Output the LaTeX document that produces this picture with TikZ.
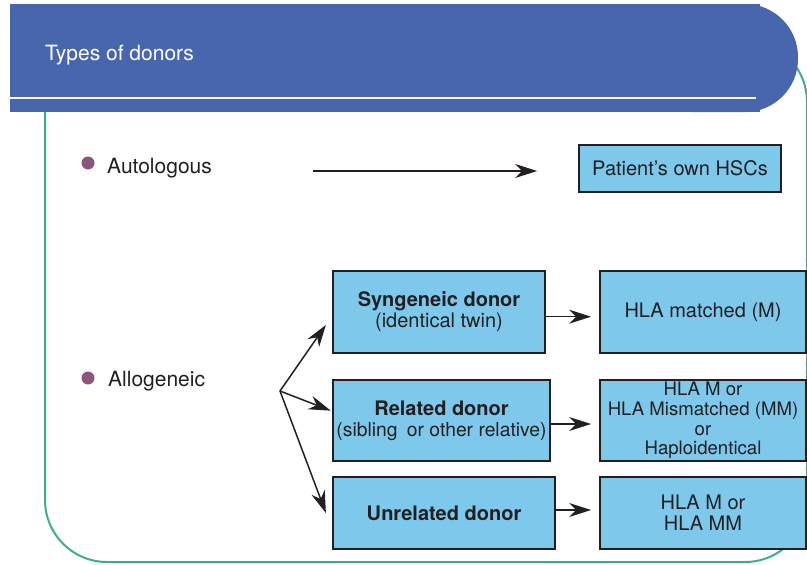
\documentclass[tikz,border=0pt]{standalone}
\usepackage{fontspec}
\setmainfont{TeX Gyre Heros}
\usetikzlibrary{arrows.meta}

\definecolor{bandblue}{HTML}{4866AE}
\definecolor{boxblue}{HTML}{7EC8EB}
\definecolor{framegreen}{HTML}{3FAE88}
\definecolor{dotpurple}{HTML}{8C5679}
\definecolor{inkdark}{HTML}{231F20}

\tikzset{
    donorbox/.style={draw=inkdark,line width=1.8pt,fill=boxblue,text=inkdark,
        align=center,inner sep=0pt,font=\fontsize{20}{21}\selectfont},
    typedot/.style={circle,fill=dotpurple,inner sep=0pt,minimum size=13pt},
    typetext/.style={anchor=base west,inner sep=0pt,text=inkdark,
        font=\fontsize{21}{22}\selectfont},
    bandtext/.style={anchor=base west,inner sep=0pt,text=white,
        font=\fontsize{21}{22}\selectfont}
}

\begin{document}
\begin{tikzpicture}[x=1pt,y=-1pt,>={Stealth[length=22pt,width=14pt,inset=7pt]}]
        \useasboundingbox (0,0) rectangle (807,565);

        \draw[framegreen,line width=2pt,rounded corners=62pt] (45,40) rectangle (807,562);
        \fill[bandblue] (10,4) rectangle (760,112);
        \fill[bandblue,rounded corners=53pt] (640,4) rectangle (798,112);
        \draw[white,line width=2pt] (10,98) -- (756,98);
        \node[bandtext] at (45,60) (head) {Types of donors};

        \node[typedot] at (88,163) (dot1) {};
        \node[typetext] at (107,173) (auto) {Autologous};
        \node[typedot] at (88,378) (dot2) {};
        \node[typetext] at (108,386) (allo) {Allogeneic};

        \node[donorbox,minimum width=202pt,minimum height=47pt] at (680,168.5) (own) {Patient’s own HSCs};

        \node[donorbox,minimum width=212pt,minimum height=82pt] at (439,312) (syn) {\textbf{Syngeneic donor}\\(identical twin)};
        \node[donorbox,minimum width=217pt,minimum height=81pt] at (441.5,420.5) (rel) {\textbf{Related donor}\\{\fontsize{19.3}{21}\selectfont(sibling\kern4pt{} or other relative)}};
        \node[donorbox,minimum width=222pt,minimum height=72pt] at (444,513) (unrel) {\textbf{Unrelated donor}};

        \node[donorbox,minimum width=206pt,minimum height=82pt] at (703,312) (hlam) {HLA matched (M)};
        \node[donorbox,minimum width=206pt,minimum height=81pt,font=\fontsize{18.6}{19.6}\selectfont] at (703,420.5) (hlamm) {HLA M or\\HLA Mismatched (MM)\\or\\Haploidentical};
        \node[donorbox,minimum width=206pt,minimum height=72pt] at (703,513) (hlammm) {HLA M or\\HLA MM};

        \coordinate (start) at (313,171);
        \coordinate (fan) at (280,391);

        \path[->,inkdark,line width=1.5pt]
        (start) edge [shorten >=41pt] ([yshift=-2.5pt]own.west)

        (fan) edge [shorten >=10.9pt] ([yshift=-4pt]syn.west)
        (fan) edge [shorten >=1.5pt] ([yshift=9.3pt]rel.west)
        (fan) edge [shorten >=17.6pt] ([yshift=-16.5pt]unrel.west)

        ([yshift=-4.7pt]syn.east) edge [shorten >=8pt] ([yshift=-4.7pt]hlam.west)
        ([yshift=-3.5pt]rel.east) edge [shorten >=8pt] ([yshift=-3.5pt]hlamm.west)
        ([yshift=3pt]unrel.east) edge [shorten >=8pt] ([yshift=3pt]hlammm.west)
        ;
    \end{tikzpicture}
\end{document}
